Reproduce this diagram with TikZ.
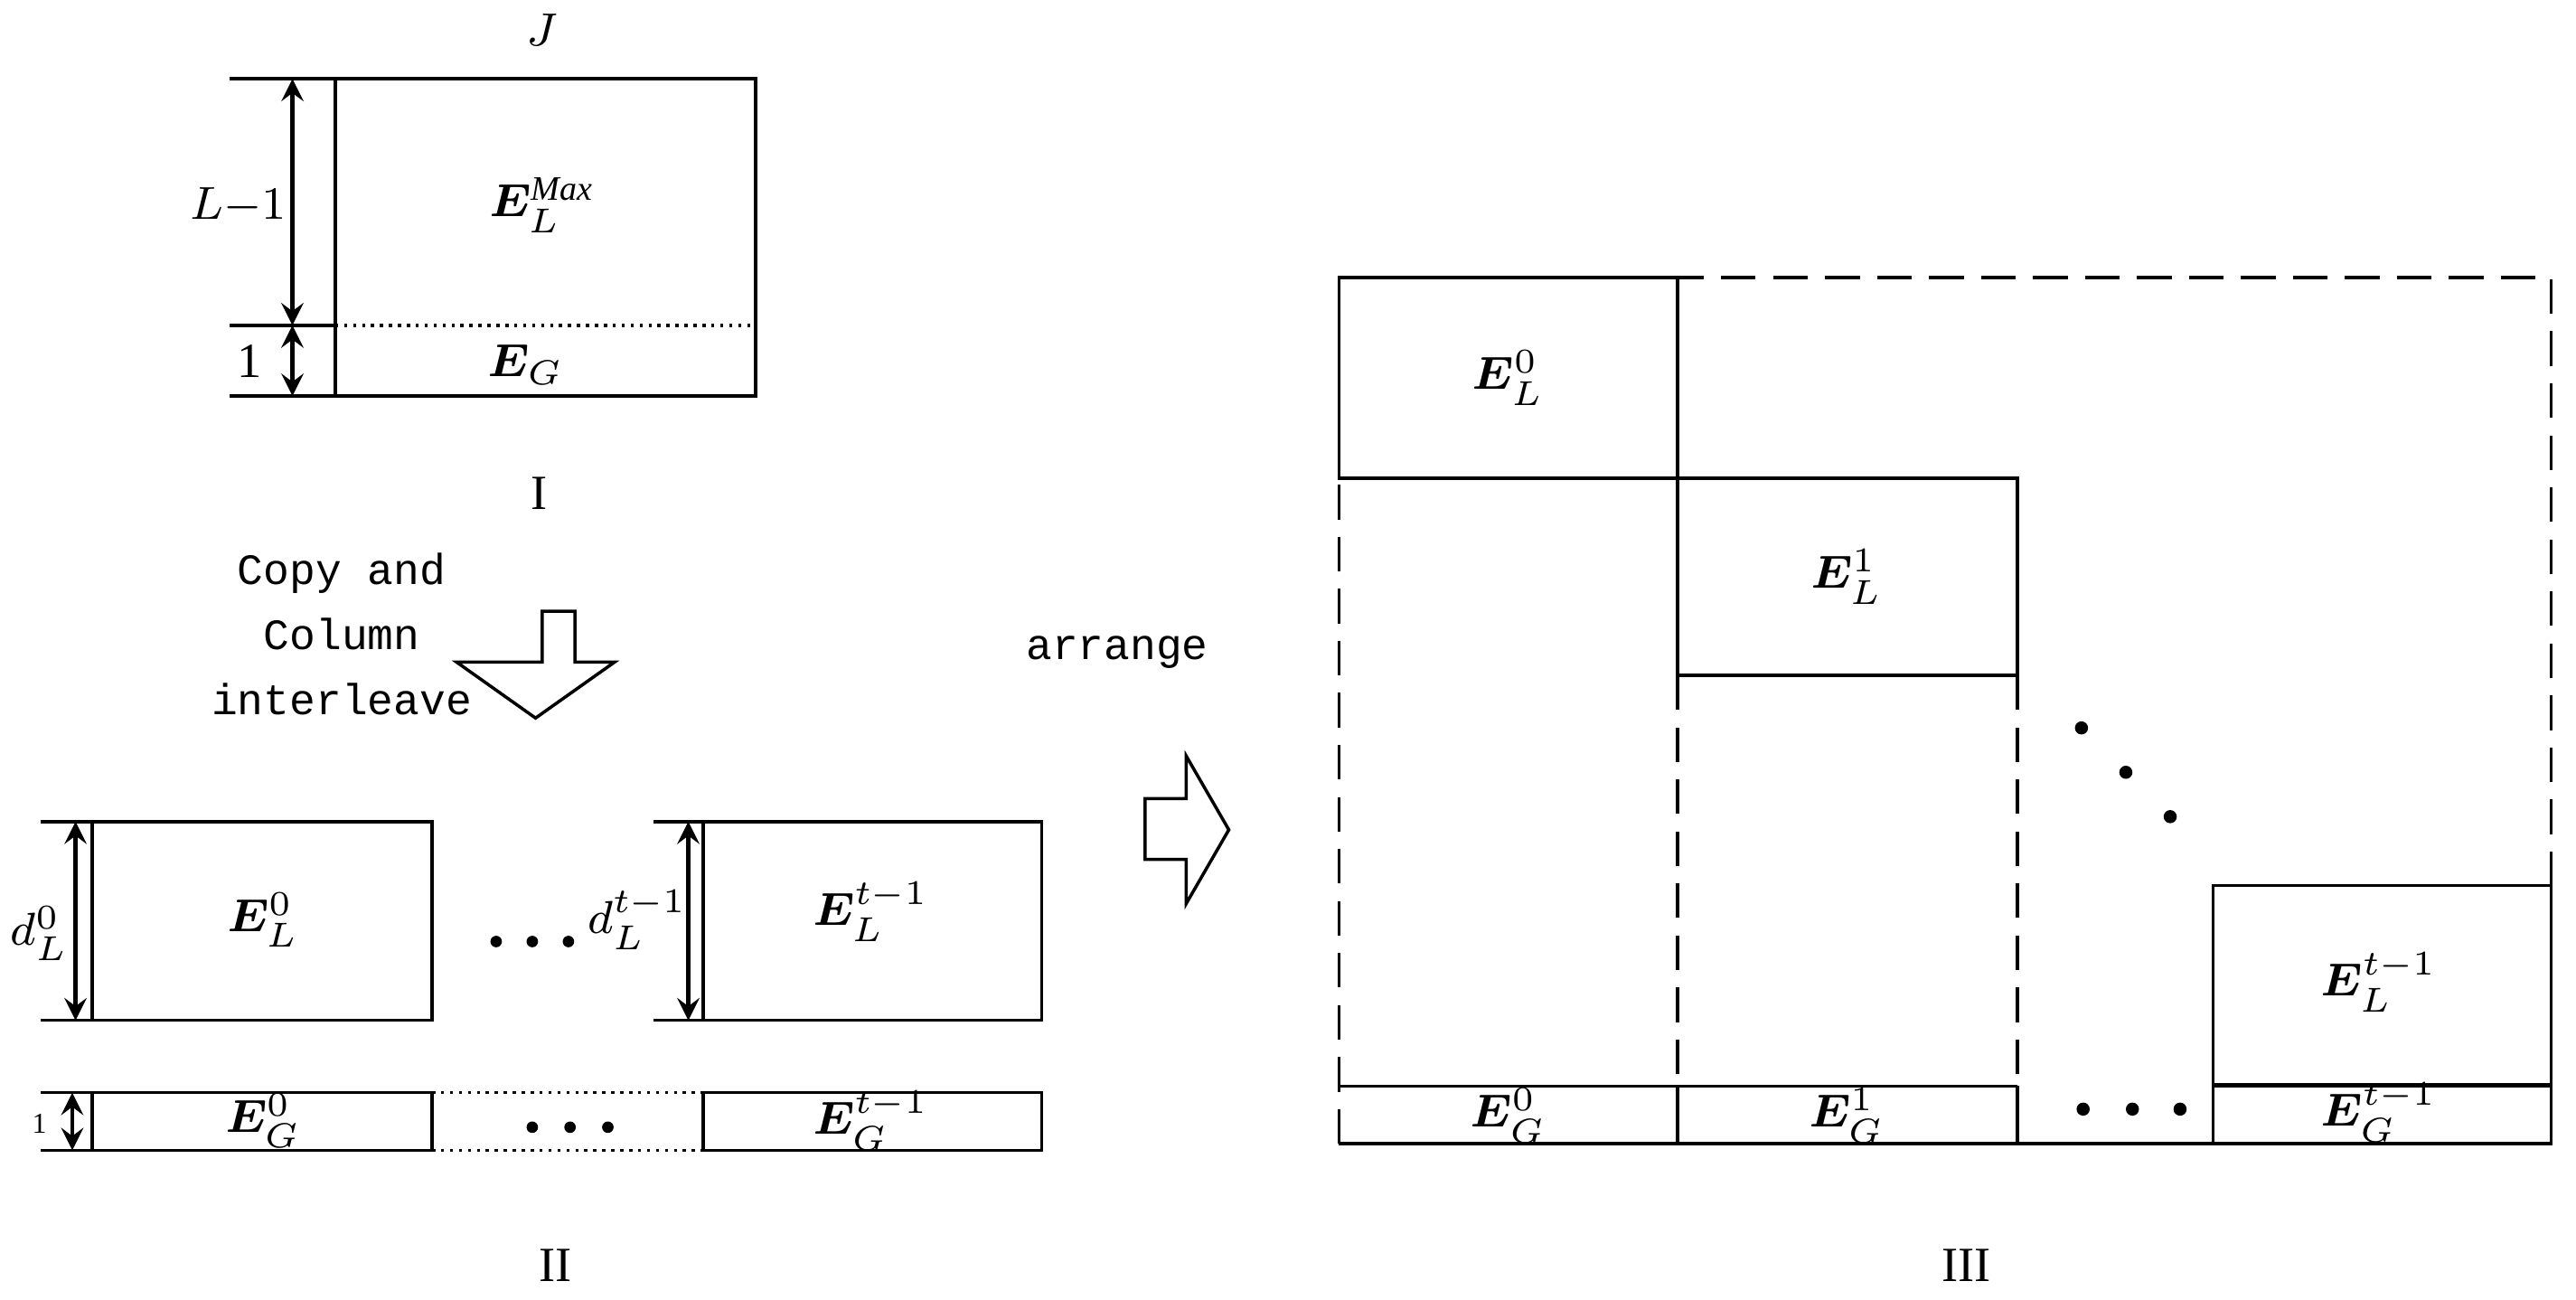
\documentclass[tikz,border=0pt]{standalone}
\usepackage{fontspec}
\usepackage{amsmath,bm}
\setmainfont{Liberation Serif}
\newfontfamily\monof{Liberation Mono}
\begin{document}
\begin{tikzpicture}[x=0.01cm,y=-0.01cm,line width=0.55pt,
  lab/.style={font=\fontsize{8.5}{9}\selectfont,inner sep=1pt},
  mono/.style={font=\monof\fontsize{7.5}{11.3}\selectfont,align=center},
  dar/.style={<->,>=stealth,line width=0.7pt},
  dsh/.style={dashed,dash pattern=on 6pt off 3pt}]
\useasboundingbox (0,0) rectangle (1568,791);
% Part I
\draw (204,48) rectangle (460,241);
\draw[densely dotted] (204,198) -- (460,198);
\draw (140,48) -- (204,48) (140,198) -- (204,198) (140,241) -- (204,241);
\draw[dar] (178,48) -- (178,198);
\draw[dar] (178,198) -- (178,241);
\node[lab] (J) at (330,18) {$J$};
\node[lab] (Lm) at (145,125) {$L{-}1$};
\node[lab] (one) at (152,220) {1};
\node[lab] (ELM) at (330,125) {$\bm{E}_L^{\mathit{Max}}$};
\node[lab] (EG) at (320,222) {$\bm{E}_G$};
\node[lab] (I) at (328,300) {I};
\node[mono] (copy) at (208,386) {Copy and\\Column\\interleave};
\draw (330,372) -- (350,372) -- (350,403) -- (374,403) -- (326,437) -- (278,403) -- (330,403) -- cycle;
% Part II
\draw (56,500) rectangle (263,621);
\draw (428,500) rectangle (634,621);
\draw (25,500) -- (56,500) (25,621) -- (56,621);
\draw (398,500) -- (428,500) (398,621) -- (428,621);
\draw[dar] (46,500) -- (46,621);
\draw[dar] (419,500) -- (419,621);
\node[lab] (dL0) at (24,568) {$d_L^0$};
\node[lab] (dLt) at (388,560) {$d_L^{t-1}$};
\node[lab] (EL0) at (160,560) {$\bm{E}_L^0$};
\node[lab] (ELt) at (530,555) {$\bm{E}_L^{t-1}$};
\foreach \x in {302,324,346} \fill (\x,573) circle (3.5);
\draw (56,665) rectangle (263,700);
\draw (428,665) rectangle (634,700);
\draw[densely dotted] (263,665) -- (428,665) (263,700) -- (428,700);
\draw (25,665) -- (56,665) (25,700) -- (56,700);
\draw[dar] (44,665) -- (44,700);
\node[font=\fontsize{5}{6}\selectfont] (one2) at (24,684) {1};
\node[lab] (EG0) at (160,682) {$\bm{E}_G^0$};
\node[lab] (EGt) at (530,682) {$\bm{E}_G^{t-1}$};
\foreach \x in {324,347,370} \fill (\x,686) circle (3.5);
\node[lab] (II) at (338,770) {II};
\node[mono] (arr) at (680,397) {arrange};
\draw (697,486) -- (722,486) -- (722,460) -- (748,505) -- (722,550) -- (722,523) -- (697,523) -- cycle;
% Part III
\draw[dsh] (815,696) -- (815,169) -- (1553,169) -- (1553,539);
\draw (815,696) -- (1553,696) -- (1553,539);
\draw (815,169) rectangle (1021,291);
\draw (1021,291) rectangle (1228,411);
\draw (1347,539) rectangle (1553,660);
\draw (815,661) -- (1228,661) (1347,661) -- (1553,661);
\draw (1021,661) -- (1021,696) (1228,661) -- (1228,696) (1347,661) -- (1347,696);
\draw[dsh] (1021,411) -- (1021,661) (1228,411) -- (1228,661);
\foreach \x/\y in {1267/443,1294/470,1321/497} \fill (\x,\y) circle (4);
\foreach \x in {1268,1298,1327} \fill (\x,675) circle (4);
\node[lab] (E0) at (918,230) {$\bm{E}_L^0$};
\node[lab] (E1) at (1124,351) {$\bm{E}_L^1$};
\node[lab] (Et) at (1448,598) {$\bm{E}_L^{t-1}$};
\node[lab] (G0) at (918,679) {$\bm{E}_G^0$};
\node[lab] (G1) at (1124,679) {$\bm{E}_G^1$};
\node[lab] (Gt) at (1448,677) {$\bm{E}_G^{t-1}$};
\node[lab] (III) at (1197,770) {III};
\end{tikzpicture}
\end{document}
